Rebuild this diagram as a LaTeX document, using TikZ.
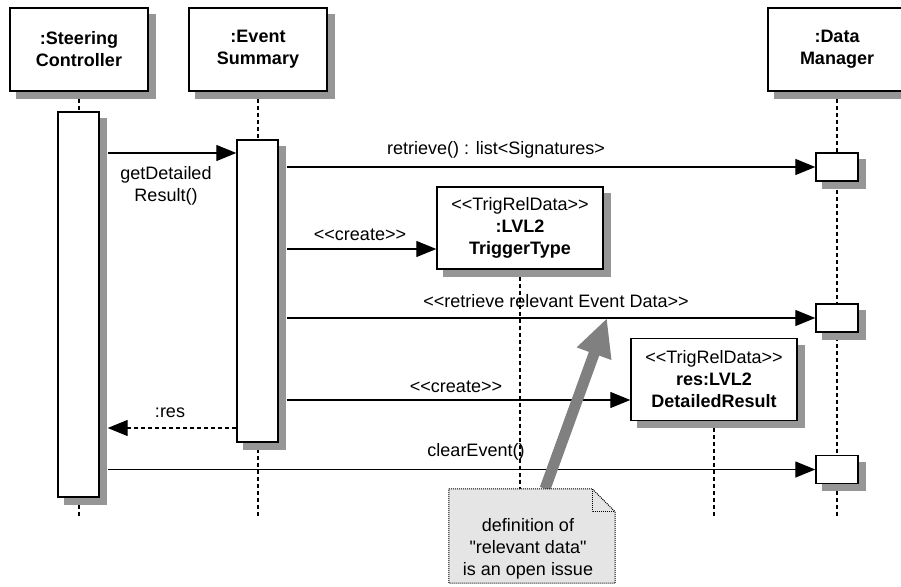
\documentclass[tikz,border=0pt]{standalone}
\usepackage{fontspec}
\setmainfont{Liberation Sans}[Ligatures=TeXOff]
\usetikzlibrary{arrows.meta, positioning, calc, backgrounds}
\definecolor{shadowgray}{RGB}{150,150,150}

\begin{document}
\begin{tikzpicture}[x=1pt, y=-1pt, >={Triangle[length=20pt, width=16pt]},
  font=\fontsize{18}{22}\selectfont,
  obj/.style={draw, line width=1.4pt, fill=white, minimum width=138pt,
              minimum height=83pt, align=center, font=\fontsize{18}{22}\selectfont\bfseries},
  inst/.style={obj, minimum width=166pt, minimum height=82pt, font=\fontsize{18}{22}\selectfont},
  act/.style={draw, line width=1.4pt, fill=white, minimum width=41pt, inner sep=0pt},
  shadowbox/.style={draw=shadowgray, fill=shadowgray, line width=1.4pt, inner sep=0pt},
  life/.style={line width=1.3pt, dash pattern=on 4pt off 3pt},
  msg/.style={->, line width=1.3pt},
  ret/.style={->, line width=1.3pt, dash pattern=on 4pt off 3pt},
  bigarrow/.style={line width=11pt, black!50, -{Triangle[length=38pt, width=34pt]}}]
  \useasboundingbox (0,0) rectangle (901,586);

  % Shadows (offset 7 right and down)
  \foreach \n/\x/\y/\w/\h in {sc/79/49.5/138/83, es/258/49.5/138/83, dm/837/49.5/138/83,
      tt/520/228/166/82, dr/714/379.5/166/82, scact/78.5/304.5/41/385,
      esact/257.5/291/41/302, dmA/837/167/42/28, dmB/837/318/42/28, dmC/837/469.5/42/28}
    \node[shadowbox, minimum width=\w, minimum height=\h] (\n shadow) at (\x+7,\y+7) {};

  % Objects
  \node[obj] (sc) at (79,49.5) {:Steering\\Controller};
  \node[obj] (es) at (258,49.5) {:Event\\Summary};
  \node[obj] (dm) at (837,49.5) {:Data\\Manager};
  \node[inst] (tt) at (520,228) {<<TrigRelData>>\\\textbf{:LVL2}\\\textbf{TriggerType}};
  \node[inst] (dr) at (714,379.5) {<<TrigRelData>>\\\textbf{res:LVL2}\\\textbf{DetailedResult}};

  % Activations
  \node[act, minimum height=385pt] (scact) at (78.5,304.5) {};
  \node[act, minimum height=302pt] (esact) at (257.5,291) {};
  \node[act, minimum width=42pt, minimum height=28pt] (dm1) at (837,167) {};
  \node[act, minimum width=42pt, minimum height=28pt] (dm2) at (837,318) {};
  \node[act, minimum width=42pt, minimum height=28pt] (dm3) at (837,469.5) {};

  % Lifelines, behind boxes and shadows
  \coordinate (bottom) at (0,516);
  \begin{scope}[on background layer]
    \foreach \n in {sc,es,dm,tt,dr}
      \draw[life] (\n.south) -- (\n.south |- bottom);
  \end{scope}

  % Messages
  \coordinate (scout) at ($(scact.east)+(8,0)$);
  \coordinate (esout) at ($(esact.east)+(8,0)$);
  \coordinate (y1) at (0,153);
  \coordinate (y3) at (0,249);
  \coordinate (y5) at (0,400);
  \coordinate (y6) at (0,428);

  \draw[msg] (scout |- y1) -- (esact.west |- y1);
  \node[align=center] (getres) at (166,186) {getDetailed\\Result()};

  \draw[msg] (esout |- dm1) -- (dm1.west);
  \node (retsig) at (496,150) {retrieve() : list<Signatures>};

  \draw[msg] (esout |- y3) -- (tt.west |- y3);
  \node (create1) at (360,235) {<<create>>};

  \draw[msg] (esout |- dm2) -- (dm2.west);
  \node (retrel) at (556,301) {<<retrieve relevant Event Data>>};

  \draw[msg] (esout |- y5) -- (dr.west |- y5);
  \node (create2) at (456,387) {<<create>>};

  \draw[ret] (esact.west |- y6) -- (scout |- y6);
  \node (res) at (170,413) {:res};

  \draw[msg] (scout |- dm3) -- (dm3.west);
  \node (clear) at (476,452) {clearEvent()};

  % Note
  \node[minimum width=166pt, minimum height=94pt, inner sep=0pt] (note) at (532,536) {};
  \coordinate (hint) at (607,318);
  \draw[bigarrow] ([xshift=13pt]note.north) -- (hint);
  \filldraw[fill=black!10, line width=1pt, dash pattern=on 1pt off 1pt]
    (note.north west) -- ([xshift=-23pt]note.north east) -- ([yshift=-23pt]note.north east)
    -- (note.south east) -- (note.south west) -- cycle;
  \draw[line width=1pt, dash pattern=on 1pt off 1pt]
    ([xshift=-23pt]note.north east) |- ([yshift=-23pt]note.north east);
  \node[align=center] (notetext) at (528,549) {definition of\\"relevant data"\\is an open issue};
\end{tikzpicture}
\end{document}
